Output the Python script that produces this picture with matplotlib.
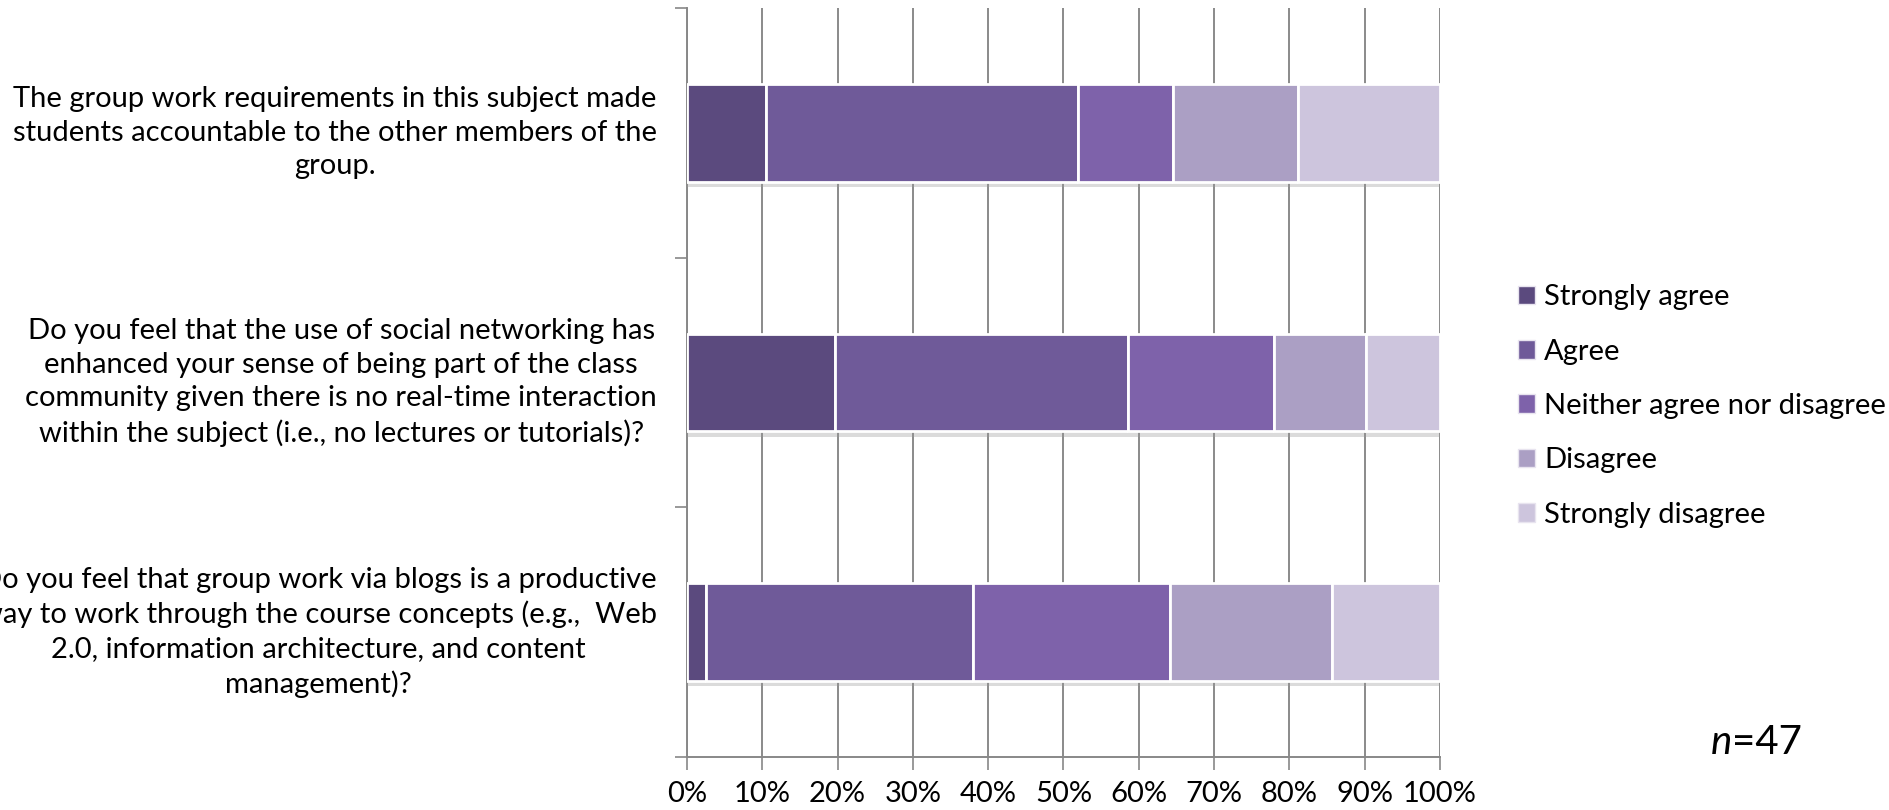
import matplotlib
matplotlib.use("Agg")
import matplotlib.pyplot as plt
import matplotlib.patheffects as pe
import matplotlib.patches as mpatches
import matplotlib.transforms as mtrans
import numpy as np

# ---- data ----
questions = [
    "The group work requirements in this subject made\nstudents accountable to the other members of the\ngroup.",
    "Do you feel that the use of social networking has\nenhanced your sense of being part of the class\ncommunity given there is no real-time interaction\nwithin the subject (i.e., no lectures or tutorials)?",
    "Do you feel that group work via blogs is a productive\nway to work through the course concepts (e.g.,  Web\n2.0, information architecture, and content\nmanagement)?",
]
responses = ["Strongly agree", "Agree", "Neither agree nor disagree", "Disagree", "Strongly disagree"]
strongly_agree = [10.5, 19.6, 2.5]
agree = [41.4, 38.9, 35.5]
neither = [12.6, 19.5, 26.2]
disagree = [16.6, 12.2, 21.4]
strongly_disagree = [18.9, 9.8, 14.4]
series = [strongly_agree, agree, neither, disagree, strongly_disagree]
colors = ["#5b4a7e", "#6f5a99", "#7e62aa", "#ab9fc4", "#cdc5dd"]
xticklabels = ["0%", "10%", "20%", "30%", "40%", "50%", "60%", "70%", "80%", "90%", "100%"]
n_text = "=47"

FONT = "Lato"
plt.rcParams["font.family"] = [FONT, "DejaVu Sans"]

W, H = 1890, 810
fig = plt.figure(figsize=(W / 100, H / 100), dpi=100)
left, right, top, bottom = 687, 1440, 8, 757
ax = fig.add_axes([left / W, 1 - bottom / H, (right - left) / W, (bottom - top) / H])

ypos = np.arange(len(questions))
cum = np.zeros(len(questions))
for vals, col, lab in zip(series, colors, responses):
    vals = np.array(vals)
    bars = ax.barh(ypos, vals, left=cum, height=0.39, color=col, edgecolor="white",
                   linewidth=2, label=lab, zorder=3)
    for b in bars:
        b.set_path_effects([pe.SimplePatchShadow(offset=(0, -4), shadow_rgbFace="#9a9a9a", alpha=0.35),
                            pe.Normal()])
    cum += vals

ax.set_xlim(0, 100)
ax.set_ylim(len(questions) - 0.5, -0.5)
ax.set_xticks(np.arange(0, 101, 10))
ax.set_xticklabels(xticklabels, fontsize=21)
ax.tick_params(axis="x", length=9, width=1.2, color="#888888", pad=8, direction="out")
ax.set_yticks([])
ax.set_yticks(np.arange(-0.5, len(questions) + 0.5, 1), minor=True)
ax.tick_params(axis="y", which="minor", length=9, width=1.2, color="#888888", direction="out")
ax.xaxis.grid(True, color="#8a8a8a", linewidth=1.4, zorder=0)
ax.set_axisbelow(True)
for s in ["top", "right"]:
    ax.spines[s].set_visible(False)
for s in ["left", "bottom"]:
    ax.spines[s].set_color("#888888")
    ax.spines[s].set_linewidth(1.4)

# category labels (centered lines, block right-aligned near the axis)
trans = mtrans.blended_transform_factory(fig.transFigure, ax.transData)
for y, q in zip(ypos, questions):
    ax.text(657 / W, y, q, transform=trans, ha="right", va="center", multialignment="center",
            fontsize=21.0, linespacing=1.36, clip_on=False)

handles = [mpatches.Patch(facecolor=c, edgecolor="#e8e4ef", linewidth=1) for c in colors]
fig.legend(handles=handles, labels=responses, loc="center left",
           bbox_to_anchor=(1518 / W, 1 - 406 / H), frameon=False, fontsize=21,
           handlelength=0.6, handleheight=0.6, handletextpad=0.3, labelspacing=0.97,
           borderpad=0, borderaxespad=0)

fig.text(1732 / W, 1 - 742 / H, "n", fontsize=29, style="italic", ha="right", va="center")
fig.text(1732 / W, 1 - 742 / H, n_text, fontsize=29, ha="left", va="center")

fig.savefig("out.png", dpi=100, facecolor="white")
